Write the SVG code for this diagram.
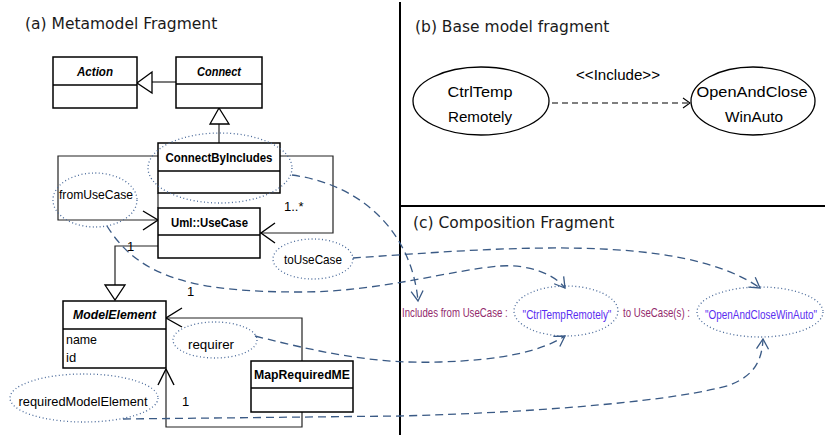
<svg xmlns="http://www.w3.org/2000/svg" width="825" height="435" viewBox="0 0 825 435">
<style>
.title{font-family:"DejaVu Sans",Verdana,sans-serif;font-size:15.5px;fill:#1a1a1a}
.cls{font-family:"Liberation Sans",Arial,sans-serif;font-size:13px;font-weight:bold;fill:#000}
.it{font-style:italic}
.lbl{font-family:"Liberation Sans",Arial,sans-serif;font-size:13px;fill:#000}
.uc{font-family:"Liberation Sans",Arial,sans-serif;font-size:15px;fill:#000}
.pur{font-family:"Liberation Sans",Arial,sans-serif;font-size:12.5px;fill:#932a6c}
.blu{font-family:"Liberation Sans",Arial,sans-serif;font-size:12.5px;fill:#5a2ef0}
.box{fill:#fff;stroke:#000;stroke-width:1.5}
.ln{fill:none;stroke:#222;stroke-width:1.2}
.tri{fill:#fff;stroke:#000;stroke-width:1.3}
.open{fill:none;stroke:#000;stroke-width:1.4}
.dot{fill:none;stroke:#4a6a9a;stroke-width:1.3;stroke-dasharray:1 2.5}
.dash{fill:none;stroke:#3a5a85;stroke-width:1.3;stroke-dasharray:8 5}
.frame{stroke:#000;stroke-width:2}
</style>
<defs>
<marker id="arr" viewBox="-12 -8 14 16" markerWidth="14" markerHeight="16" refX="0" refY="0" orient="auto" markerUnits="userSpaceOnUse">
<path d="M -10 -6 L 0 0 L -10 6" fill="none" stroke="#3a5a85" stroke-width="1.3"/>
</marker>
<marker id="arrb" viewBox="-10 -6 12 12" markerWidth="12" markerHeight="12" refX="0" refY="0" orient="auto" markerUnits="userSpaceOnUse">
<path d="M -7 -5 L 0 0 L -7 5" fill="none" stroke="#000" stroke-width="1.1"/>
</marker>
</defs>
<rect width="825" height="435" fill="#fff"/>

<g id="frames">
<line class="frame" x1="400" y1="2" x2="400" y2="435"/>
<line class="frame" x1="400" y1="206" x2="825" y2="206"/>
<text class="title" x="25" y="29">(a) Metamodel Fragment</text>
<text class="title" x="415" y="32">(b) Base model fragment</text>
<text class="title" x="413" y="228">(c) Composition Fragment</text>
</g>

<g id="connectors">
<line class="ln" x1="152" y1="82" x2="176" y2="82"/>
<polygon class="tri" points="137,83 152,72 152,93"/>
<line class="ln" x1="219" y1="124" x2="219" y2="143"/>
<polygon class="tri" points="219,108 210,124 229,124"/>
<polyline class="ln" points="158,156 58,156 58,220 158,220"/>
<path class="open" d="M 143 211 L 158 220 L 143 230"/>
<polyline class="ln" points="280,156 333,156 333,233 260,233"/>
<path class="open" d="M 275 223 L 261 233 L 275 243"/>
<line class="ln" x1="158" y1="193" x2="158" y2="208"/>
<polyline class="ln" points="158,246 115,246 115,285"/>
<polygon class="tri" points="105,285 125,285 115,300"/>
<polyline class="ln" points="166,318 302,318 302,361"/>
<path class="open" d="M 182 308 L 166 318 L 182 327"/>
<polyline class="ln" points="302,412 302,427 166,427 166,369"/>
<path class="open" d="M 158 385 L 166 369 L 174 385"/>
<text class="lbl" x="284" y="211">1..*</text>
<text class="lbl" x="127" y="251">1</text>
<text class="lbl" x="187" y="296">1</text>
<text class="lbl" x="182" y="406">1</text>
<line x1="552" y1="103" x2="690" y2="103" stroke="#000" stroke-width="1.2" stroke-dasharray="6 4" marker-end="url(#arrb)"/>
<text class="lbl" x="618" y="80" text-anchor="middle" textLength="84" lengthAdjust="spacingAndGlyphs" style="font-size:14px">&lt;&lt;Include&gt;&gt;</text>
<path class="dash" d="M 292 175 C 365 185, 412 235, 418 301" marker-end="url(#arr)"/>
<path class="dash" d="M 107 226 C 140 280, 200 292, 300 292 C 380 292, 450 270, 500 266 C 530 264, 555 275, 565 288" marker-end="url(#arr)"/>
<path class="dash" d="M 353 258 C 500 248, 680 232, 760 288" marker-end="url(#arr)"/>
<path class="dash" d="M 255 336 C 330 355, 380 364, 440 362 C 500 360, 540 352, 565 336" marker-end="url(#arr)"/>
<path class="dash" d="M 123 419 L 400 416 C 550 412, 680 400, 730 385 C 755 375, 762 360, 763 339" marker-end="url(#arr)"/>
</g>

<g id="Action">
<rect class="box" x="53" y="57" width="84" height="51"/>
<line class="box" x1="53" y1="85" x2="137" y2="85"/>
<text class="cls it" x="95" y="76" text-anchor="middle" textLength="36" lengthAdjust="spacingAndGlyphs">Action</text>
</g>
<g id="Connect">
<rect class="box" x="176" y="57" width="86" height="51"/>
<line class="box" x1="176" y1="84" x2="262" y2="84"/>
<text class="cls it" x="219" y="76" text-anchor="middle" textLength="44" lengthAdjust="spacingAndGlyphs">Connect</text>
</g>
<g id="ConnectByIncludes">
<rect class="box" x="158" y="143" width="122" height="50"/>
<line class="box" x1="158" y1="171" x2="280" y2="171"/>
<text class="cls" x="219" y="162" text-anchor="middle" textLength="107" lengthAdjust="spacingAndGlyphs">ConnectByIncludes</text>
<ellipse class="dot" cx="220" cy="168" rx="72" ry="35"/>
</g>
<g id="UseCase">
<rect class="box" x="158" y="208" width="102" height="50"/>
<line class="box" x1="158" y1="235" x2="260" y2="235"/>
<text class="cls" x="209.5" y="227" text-anchor="middle" textLength="77" lengthAdjust="spacingAndGlyphs">Uml::UseCase</text>
</g>
<g id="ModelElement">
<rect class="box" x="63" y="301" width="103" height="67"/>
<line class="box" x1="63" y1="329" x2="166" y2="329"/>
<text class="cls it" x="114.5" y="319" text-anchor="middle" textLength="83" lengthAdjust="spacingAndGlyphs">ModelElement</text>
<text class="lbl" x="66" y="344" textLength="31" lengthAdjust="spacingAndGlyphs">name</text>
<text class="lbl" x="66" y="362">id</text>
</g>
<g id="MapRequiredME">
<rect class="box" x="251" y="361" width="102" height="51"/>
<line class="box" x1="251" y1="388" x2="353" y2="388"/>
<text class="cls" x="302" y="379" text-anchor="middle" textLength="96" lengthAdjust="spacingAndGlyphs">MapRequiredME</text>
</g>
<g id="fromUseCase">
<ellipse class="dot" cx="95" cy="200" rx="42" ry="27"/>
<text class="lbl" x="96" y="199" text-anchor="middle" textLength="74" lengthAdjust="spacingAndGlyphs">fromUseCase</text>
</g>
<g id="toUseCase">
<ellipse class="dot" cx="313" cy="259" rx="40" ry="20"/>
<text class="lbl" x="313" y="264" text-anchor="middle" textLength="58" lengthAdjust="spacingAndGlyphs">toUseCase</text>
</g>
<g id="requirer">
<ellipse class="dot" cx="215" cy="340" rx="42" ry="18"/>
<text class="lbl" x="211" y="349" text-anchor="middle" textLength="46" lengthAdjust="spacingAndGlyphs">requirer</text>
</g>
<g id="requiredModelElement">
<ellipse class="dot" cx="84" cy="398" rx="74" ry="24"/>
<text class="lbl" x="83" y="406" text-anchor="middle" textLength="129" lengthAdjust="spacingAndGlyphs">requiredModelElement</text>
</g>

<g id="CtrlTempRemotely">
<ellipse cx="481" cy="101" rx="68" ry="34" fill="#fff" stroke="#000" stroke-width="1.3"/>
<text class="uc" x="480" y="97" text-anchor="middle" textLength="65" lengthAdjust="spacingAndGlyphs">CtrlTemp</text>
<text class="uc" x="480" y="122" text-anchor="middle" textLength="64" lengthAdjust="spacingAndGlyphs">Remotely</text>
</g>
<g id="OpenAndCloseWinAuto">
<ellipse cx="753" cy="101" rx="62" ry="34" fill="#fff" stroke="#000" stroke-width="1.3"/>
<text class="uc" x="752" y="97" text-anchor="middle" textLength="111" lengthAdjust="spacingAndGlyphs">OpenAndClose</text>
<text class="uc" x="754" y="122" text-anchor="middle" textLength="58" lengthAdjust="spacingAndGlyphs">WinAuto</text>
</g>

<g id="composition">
<text class="pur" transform="translate(402,317) scale(0.774,1)">Includes from UseCase :</text>
<ellipse class="dot" cx="566" cy="311" rx="52" ry="25"/>
<text class="blu" text-anchor="middle" transform="translate(567,319) scale(0.796,1)">"CtrlTempRemotely"</text>
<text class="pur" transform="translate(623,317) scale(0.772,1)">to UseCase(s) :</text>
<ellipse class="dot" cx="760" cy="312" rx="63" ry="25"/>
<text class="blu" text-anchor="middle" transform="translate(761,319) scale(0.795,1)">"OpenAndCloseWinAuto"</text>
</g>
</svg>
